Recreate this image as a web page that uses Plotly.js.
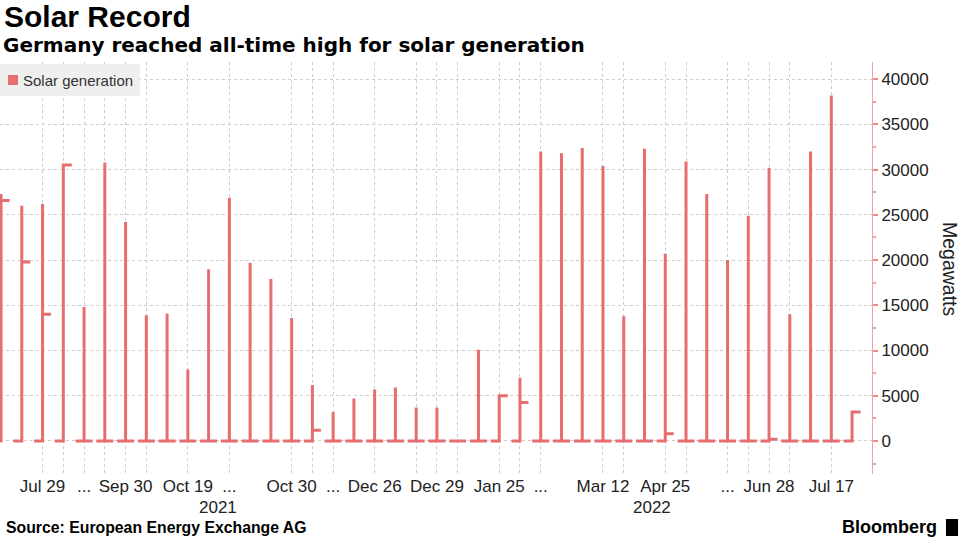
<!DOCTYPE html>
<html>
<head>
<meta charset="utf-8">
<script src="https://cdn.plot.ly/plotly-3.0.1.min.js"></script>
<style>
html,body{margin:0;padding:0;background:#fff;}
#chart{width:961px;height:539px;}
</style>
</head>
<body>
<div id="chart"></div>
<script>
// Peak solar generation (MW) for each sampled period, in order
const peakValues = [27300, 26000, 26200, 30500, 14800, 30800, 24200, 13900, 14100, 7900,
  19000, 26900, 19700, 17900, 13600, 6200, 3200, 4700, 5700, 5900,
  3700, 3700, 0, 10100, 5000, 7000, 32000, 31800, 32400, 30400,
  13800, 32300, 20700, 30900, 27300, 20000, 24900, 30200, 14000, 32000,
  38200, 3200];
// Value held right after each peak (MW)
const afterValues = [26600, 19800, 14000, 30500, 0, 0, 0, 0, 0, 0,
  0, 0, 0, 0, 0, 1200, 0, 0, 0, 0,
  0, 0, 0, 0, 5000, 4250, 0, 0, 0, 0,
  0, 0, 800, 0, 0, 0, 0, 200, 0, 0,
  0, 3200];
// Level held right before each peak (MW)
const beforeValues = peakValues.map(() => 0);

// X-axis ticks (period index) and their labels
const tickIndex = [2, 3, 4, 5, 6, 7, 9, 11, 14, 15, 16, 18, 20, 21, 22, 24, 25, 26, 29, 30, 32, 33, 35, 36, 37, 38, 40];
const tickLabels = ["Jul 29", "", "...", "", "Sep 30", "", "Oct 19", "...", "Oct 30", "", "...", "Dec 26", "", "Dec 29", "", "Jan 25", "", "...", "Mar 12", "", "Apr 25", "", "...", "", "Jun 28", "", "Jul 17"];
const yearLabels = ["2021", "2022"];
const yearPos = [10.45, 31.36];
const seriesName = "Solar generation";

const RED = "#e66e6e";
const HALF = 0.41;
const xs = [], ys = [];
peakValues.forEach((p, i) => {
  xs.push(i - HALF, i, i, i, i + HALF, null);
  ys.push(beforeValues[i], beforeValues[i], p, afterValues[i], afterValues[i], null);
});

const FONT = "Liberation Sans, Arial, sans-serif";
const PW = 872, PH = 412, PT = 62;           // plot area in pixels
const px = v => v / PW;                        // pixel -> paper x
const py = v => (PT + PH - v) / PH;            // pixel -> paper y

const traces = [
  {
    type: "scatter", mode: "lines", x: xs, y: ys, name: seriesName,
    line: {color: RED, width: 3, shape: "linear"},
    connectgaps: false, showlegend: false, hoverinfo: "skip"
  }
];

const layout = {
  width: 961, height: 539,
  margin: {l: 0, r: 89, t: 62, b: 65},
  paper_bgcolor: "#fff", plot_bgcolor: "#fff",
  font: {family: FONT, size: 17, color: "#222"},
  showlegend: false,
  xaxis: {
    range: [-0.05, 41.96],
    tickmode: "array", tickvals: tickIndex, ticktext: tickLabels,
    showgrid: true, gridcolor: "#cdcdcd", griddash: "dot", gridwidth: 1,
    zeroline: false, showline: false, ticks: "",
    tickfont: {size: 17, color: "#222"}, fixedrange: true
  },
  yaxis: {
    side: "right", range: [-3650, 41900],
    tickmode: "linear", tick0: 0, dtick: 5000, tickformat: "d",
    showgrid: true, gridcolor: "#cdcdcd", griddash: "dot", gridwidth: 1,
    zeroline: false, showline: true, linecolor: "#f0a3a3", linewidth: 1,
    ticks: "outside", ticklen: 5, tickcolor: "#ec8a8a", tickwidth: 2,
    minor: {dtick: 2500, ticks: "outside", ticklen: 3, tickcolor: "#f0a3a3", showgrid: false},
    tickfont: {size: 17, color: "#222"}, fixedrange: true
  },
  annotations: [
    {xref: "paper", yref: "paper", x: px(2), y: py(17), xanchor: "left", yanchor: "middle",
     text: "<b>Solar Record</b>", showarrow: false, font: {size: 30, color: "#000", family: FONT}},
    {xref: "paper", yref: "paper", x: px(1), y: py(45), xanchor: "left", yanchor: "middle",
     text: "<b>Germany reached all-time high for solar generation</b>", showarrow: false,
     font: {size: 20, color: "#000", family: "DejaVu Sans, Verdana, sans-serif"}},
    {xref: "paper", yref: "paper", x: px(4), y: py(527), xanchor: "left", yanchor: "middle",
     text: "<b>Source: European Energy Exchange AG</b>", showarrow: false,
     font: {size: 15.8, color: "#000", family: FONT}},
    {xref: "paper", yref: "paper", x: px(939), y: py(527), xanchor: "right", yanchor: "middle",
     text: "<b>Bloomberg</b>", showarrow: false, font: {size: 18, color: "#000", family: FONT}},
    {xref: "paper", yref: "paper", x: px(950), y: py(269), xanchor: "center", yanchor: "middle",
     text: "Megawatts", textangle: 90, showarrow: false, font: {size: 19.5, color: "#222", family: FONT}},
    {xref: "paper", yref: "paper", x: px(21), y: py(80), xanchor: "left", yanchor: "middle",
     text: seriesName, showarrow: false, font: {size: 15, color: "#333", family: FONT}}
  ].concat(yearLabels.map((t, k) => ({
    xref: "x", yref: "paper", x: yearPos[k], y: py(507), xanchor: "center", yanchor: "middle",
    text: t, showarrow: false, font: {size: 17, color: "#222", family: FONT}
  }))),
  shapes: [
    {type: "rect", xref: "paper", yref: "paper", x0: px(0), x1: px(140), y0: py(96), y1: py(64),
     fillcolor: "#efefef", line: {width: 0}, layer: "above"},
    {type: "rect", xref: "paper", yref: "paper", x0: px(8), x1: px(18), y0: py(85), y1: py(75),
     fillcolor: RED, line: {width: 0}, layer: "above"},
    {type: "rect", xref: "paper", yref: "paper", x0: px(946), x1: px(958), y0: py(536), y1: py(519),
     fillcolor: "#000", line: {width: 0}}
  ]
};

Plotly.newPlot("chart", traces, layout, {staticPlot: true, displayModeBar: false});
</script>
</body>
</html>
